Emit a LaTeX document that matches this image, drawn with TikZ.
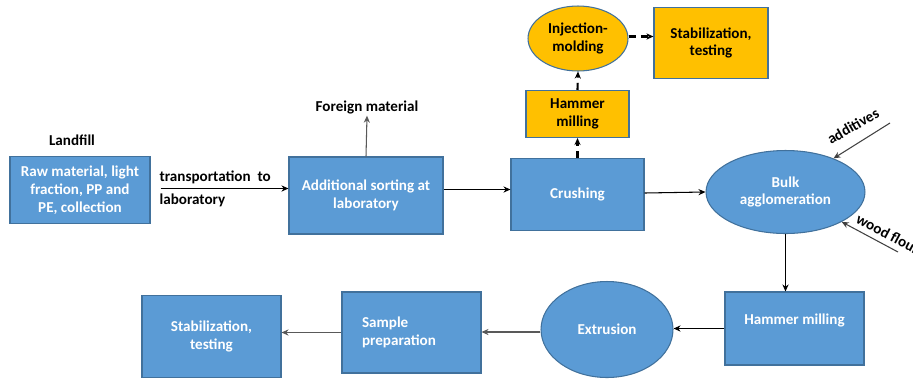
\documentclass[tikz,border=0pt]{standalone}
\usepackage{fontspec}
\setmainfont{Carlito}
\usepackage{xcolor}
\usepackage{tikz}
\usetikzlibrary{arrows.meta,shapes.geometric,positioning,calc}
\definecolor{stepblue}  {RGB}{91,155,213}
\definecolor{stepline}  {RGB}{65,113,156}
\definecolor{steporange}{RGB}{255,192,0}
\tikzset{
  mainbox/.style={draw=stepline, line width=0.6pt, align=center,
                  font=\fontsize{8.6}{10.2}\selectfont\bfseries, inner sep=2pt},
  bluebox/.style ={mainbox, fill=stepblue, text=white},
  orangebox/.style={mainbox, fill=steporange, text=black},
  blueoval/.style={bluebox, ellipse},
  orangeoval/.style={orangebox, ellipse},
  plainlbl/.style={font=\fontsize{8.6}{10.2}\selectfont\bfseries, inner sep=1pt},
  arr/.style    ={-{Stealth[length=4pt,width=3.5pt]}, line width=0.6pt},
  garr/.style   ={arr, draw=black!65},
  darr/.style   ={-{Stealth[length=4pt,width=3.5pt]}, line width=1.2pt,
                  dash pattern=on 4pt off 3pt},
}
\begin{document}
\begin{tikzpicture}[x=0.02cm,y=-0.02cm]
  \useasboundingbox (0,0) rectangle (913,380);
  %% upper row
  \node[bluebox, minimum width=2.8cm, minimum height=1.34cm] (raw) at (80,190)
       {Raw material, light\\fraction, PP and\\PE, collection};
  \node[plainlbl] (landfill) at (72,140) {Landfill};
  \node[bluebox, minimum width=3.08cm, minimum height=1.54cm] (sort) at (366,195.5)
       {Additional sorting at\\laboratory};
  \node[plainlbl] (foreign) at (367,107) {Foreign material};
  \node[bluebox, minimum width=2.66cm, minimum height=1.44cm] (crush) at (577.5,194.5) {Crushing};
  \node[orangebox, minimum width=2.06cm, minimum height=0.94cm] (hammA) at (577.5,114)
       {Hammer\\milling};
  \node[orangeoval, minimum width=2.0cm, minimum height=1.3cm, inner sep=0pt] (inject) at (578,38.5)
       {Injection-\\molding};
  \node[orangebox, minimum width=2.28cm, minimum height=1.42cm] (stabA) at (711,43)
       {Stabilization,\\testing};
  \node[blueoval, minimum width=3.18cm, minimum height=1.66cm, inner sep=0pt] (bulk) at (785.5,192)
       {Bulk\\agglomeration};
  \coordinate (addsrc) at (890,123);
  \coordinate (woodsrc) at (898,252);
  \node[plainlbl, rotate=30] (additives) at (853,126) {additives};
  \node[plainlbl, rotate=-28] (wood) at (888,234) {wood flour};
  %% lower row
  \node[bluebox, minimum width=2.78cm, minimum height=1.46cm, text depth=0.38cm] (hammB) at (794.5,328.5)
       {Hammer milling};
  \node[blueoval, minimum width=2.64cm, minimum height=1.92cm, inner sep=0pt] (extr) at (607,329.5) {Extrusion};
  \node[bluebox, text width=1.98cm, inner xsep=0.4cm, minimum height=1.62cm, align=left] (prep) at (411.5,332.5)
       {Sample\\preparation};
  \node[bluebox, minimum width=2.78cm, minimum height=1.64cm] (stabB) at (211.5,336.5)
       {Stabilization,\\testing};
  %% connectors
  \draw[arr, shorten <=0.2cm] ([yshift=0.03cm]raw.east) -- ([yshift=0.03cm]raw.east -| sort.west)
       node[plainlbl, pos=0.05, anchor=west, align=left] (transport) {transportation\ \ to\\[3pt]laboratory};
  \draw[garr] (sort.north) -- (foreign.south);
  \draw[arr] ([yshift=0.12cm]sort.east) -- ([yshift=0.12cm]sort.east -| crush.west);
  \draw[arr] ([yshift=0.03cm]crush.east) -- (bulk.west);
  \draw[darr] (crush.north) -- (hammA.south);
  \draw[darr] (hammA.north) -- (inject.south);
  \draw[darr] ([yshift=0.04cm]inject.east) -- ([yshift=0.04cm]inject.east -| stabA.west);
  \draw[arr, draw=black!75] (addsrc) -- (bulk.35);
  \draw[arr, draw=black!75] (woodsrc) -- (bulk.-28);
  \draw[arr] (bulk.south) -- (bulk.south |- hammB.north);
  \draw[arr] (hammB.west) -- (hammB.west -| extr.east);
  \draw[garr] ([yshift=-0.05cm]extr.west) -- ([yshift=-0.05cm]extr.west -| prep.east);
  \draw[garr] (prep.west) -- (prep.west -| stabB.east);
\end{tikzpicture}
\end{document}
